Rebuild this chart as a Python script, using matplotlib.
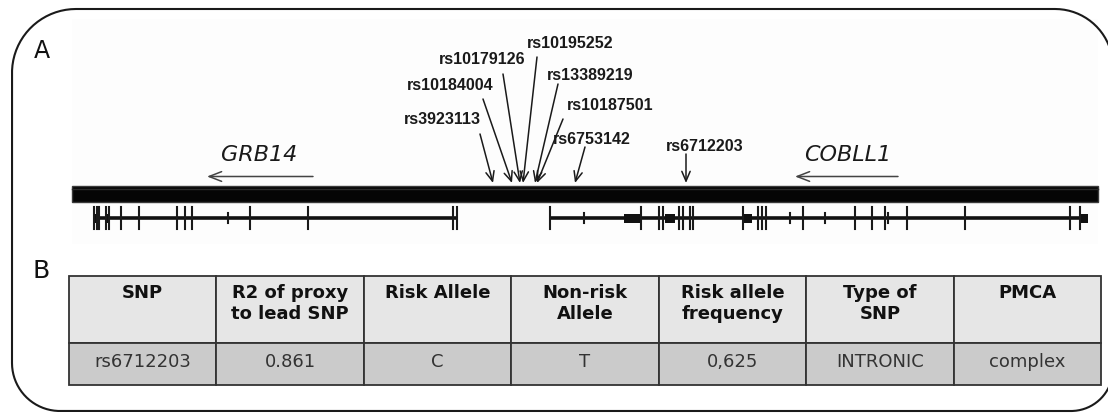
import numpy as np
import matplotlib.pyplot as plt
from matplotlib.patches import Rectangle

# --- panel A data (positions along the region, in figure pixel units) ---
snp_names = ['rs3923113', 'rs10184004', 'rs10179126', 'rs10195252',
             'rs13389219', 'rs10187501', 'rs6753142', 'rs6712203']
snp_pos = [493, 512, 520, 523, 535, 537, 575, 686]
snp_label_x = [442, 450, 482, 570, 590, 610, 592, 705]
snp_label_y = [120, 86, 60, 43, 76, 106, 140, 147]
snp_tail_x = [480, 483, 503, 537, 558, 563, 585, 686]
snp_tail_y = [135, 100, 75, 58, 85, 120, 148, 155]

genes = ['GRB14', 'COBLL1']
gene_span = [(94, 458), (550, 1088)]
gene_label_x = [259, 848]
gene_arrow = [(313, 207), (898, 795)]
exons = [
    [94, 97, 99, 106, 109, 121, 139, 177, 185, 192, 250, 308, 453, 457],
    [550, 641, 659, 663, 679, 683, 690, 693, 743, 758, 762, 766, 803,
     855, 872, 885, 907, 965, 1070, 1080],
]
small_exons = [[228], [584, 790, 825, 888]]
blocks = [[(94, 100), (106, 109)],
          [(624, 640), (665, 675), (743, 752), (1080, 1088)]]

chrom = (72, 1098)

# --- panel B data ---
headers = ['SNP', 'R2 of proxy\nto lead SNP', 'Risk Allele', 'Non-risk\nAllele',
           'Risk allele\nfrequency', 'Type of\nSNP', 'PMCA']
row = ['rs6712203', '0.861', 'C', 'T', '0,625', 'INTRONIC', 'complex']

fig = plt.figure(figsize=(11.08, 4.14), dpi=100)
ax = fig.add_axes([0, 0, 1, 1])
ax.set_xlim(0, 1108)
ax.set_ylim(414, 0)
ax.axis('off')

# outer rounded frame
x0, y0, x1, y1 = 12, 10, 1113, 412
r_tl, r_tr, r_br, r_bl = 64, 58, 42, 48
def arc(cx, cy, r, t0, t1):
    t = np.linspace(t0, t1, 40)
    return list(cx + r*np.cos(t)), list(cy + r*np.sin(t))
px, py = [], []
for (cx, cy, r, t0, t1) in [(x1-r_tr, y0+r_tr, r_tr, -np.pi/2, 0),
                             (x1-r_br, y1-r_br, r_br, 0, np.pi/2),
                             (x0+r_bl, y1-r_bl, r_bl, np.pi/2, np.pi),
                             (x0+r_tl, y0+r_tl, r_tl, np.pi, 1.5*np.pi)]:
    a, b = arc(cx, cy, r, t0, t1)
    px += a
    py += b
px.append(px[0])
py.append(py[0])
ax.plot(px, py, color='#1a1a1a', lw=1.5, solid_capstyle='round')

ax.text(42, 51, 'A', fontsize=17, ha='center', va='center', color='#111')
ax.text(41, 271, 'B', fontsize=18, ha='center', va='center', color='#111')

# faint panel background
ax.add_patch(Rectangle((72, 20), 1026, 225, facecolor='#fdfdfd', edgecolor='none'))

# chromosome bar
ax.add_patch(Rectangle((chrom[0], 187), chrom[1]-chrom[0], 16,
                       facecolor='#050505', edgecolor='#3a3a3a', lw=1))
ax.plot(chrom, [189.5, 189.5], color='#2a2a2a', lw=1)

# genes
for g in range(len(genes)):
    s, e = gene_span[g]
    ax.plot([s, e], [219, 219], color='#111', lw=2.6, solid_capstyle='butt')
    for xe in exons[g]:
        ax.plot([xe, xe], [208, 230], color='#1a1a1a', lw=1.5)
    for xe in small_exons[g]:
        ax.plot([xe, xe], [214, 224], color='#1a1a1a', lw=1.5)
    for (bs, be) in blocks[g]:
        ax.add_patch(Rectangle((bs, 214.5), be-bs, 9, facecolor='#111', edgecolor='none'))
    ax.text(gene_label_x[g], 155, genes[g], fontsize=16, style='italic',
            ha='center', va='center', color='#1a1a1a')
    ax.annotate('', xy=(gene_arrow[g][1], 177.5), xytext=(gene_arrow[g][0], 177.5),
                arrowprops=dict(arrowstyle='->,head_length=0.9,head_width=0.35',
                                color='#444', lw=1.1, shrinkA=0, shrinkB=0))

# SNP arrows and labels
for i, name in enumerate(snp_names):
    ax.annotate('', xy=(snp_pos[i], 184), xytext=(snp_tail_x[i], snp_tail_y[i]),
                arrowprops=dict(arrowstyle='->,head_length=0.7,head_width=0.3',
                                color='#1a1a1a', lw=1.1, shrinkA=0, shrinkB=0))
    ax.text(snp_label_x[i], snp_label_y[i], name, fontsize=11.5, fontweight='bold',
            family='Liberation Sans', ha='center', va='center', color='#1a1a1a')

# table
tx0, tx1 = 69, 1101
ty0, ty1, ty2 = 277, 344, 386
cw = (tx1 - tx0) / len(headers)
for j in range(len(headers)):
    cx = tx0 + j*cw
    ax.add_patch(Rectangle((cx, ty0), cw, ty1-ty0, facecolor='#e6e6e6',
                           edgecolor='#333', lw=1.3))
    ax.add_patch(Rectangle((cx, ty1), cw, ty2-ty1, facecolor='#cbcbcb',
                           edgecolor='#333', lw=1.3))
    ax.text(cx + cw/2, 284, headers[j], fontsize=13, fontweight='bold',
            ha='center', va='top', color='#111', linespacing=1.2)
    ax.text(cx + cw/2, 362, row[j], fontsize=13, ha='center', va='center',
            color='#333')

fig.savefig('out.png', dpi=100)
